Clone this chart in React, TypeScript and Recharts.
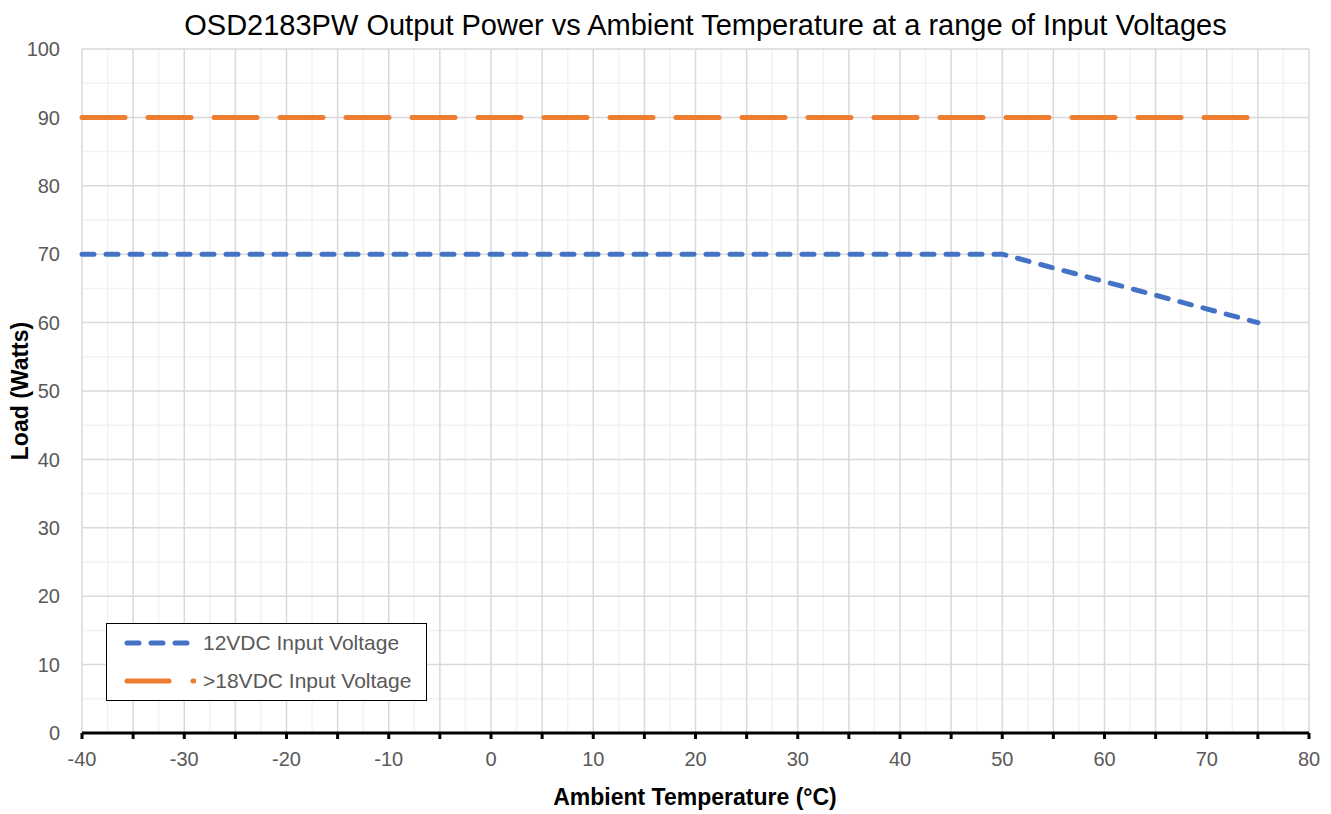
import { LineChart, Line, XAxis, YAxis, CartesianGrid } from 'recharts'

const blueX = [-40, 50, 75]
const blueY = [70, 70, 60]
const orangeX = [-40, 75]
const orangeY = [90, 90]

const xTicks = [-40, -35, -30, -25, -20, -15, -10, -5, 0, 5, 10, 15, 20, 25, 30, 35, 40, 45, 50, 55, 60, 65, 70, 75, 80]
const xMinor = [-37.5, -32.5, -27.5, -22.5, -17.5, -12.5, -7.5, -2.5, 2.5, 7.5, 12.5, 17.5, 22.5, 27.5, 32.5, 37.5, 42.5, 47.5, 52.5, 57.5, 62.5, 67.5, 72.5, 77.5]
const yTicks = [0, 10, 20, 30, 40, 50, 60, 70, 80, 90, 100]
const yMinor = [5, 15, 25, 35, 45, 55, 65, 75, 85, 95]

const BLUE = '#4472C4'
const ORANGE = '#ED7D31'
const FONT = '"Liberation Sans", Arial, sans-serif'

const blueData = blueX.map((x, i) => ({ x, y: blueY[i] }))
const orangeData = orangeX.map((x, i) => ({ x, y: orangeY[i] }))

export default function App() {
  return (
    <div style={{ position: 'relative', width: 1315, height: 806, fontFamily: FONT }}>
      <div style={{ position: 'absolute', left: 40, top: 0, width: 1315, textAlign: 'center', fontSize: 29, color: '#000', lineHeight: '34px', zIndex: 1 }}>
        OSD2183PW Output Power vs Ambient Temperature at a range of Input Voltages
      </div>
      <LineChart width={1315} height={806} margin={{ top: 41, right: 14, left: 0, bottom: 41 }}>
        <CartesianGrid horizontalValues={yMinor} verticalValues={xMinor} stroke="#F2F2F2" strokeWidth={1.5} />
        <CartesianGrid horizontalValues={yTicks} verticalValues={xTicks} stroke="#D9D9D9" strokeWidth={1.5} />
        <XAxis
          type="number" dataKey="x" domain={[-40, 80]} ticks={xTicks} interval={0}
          tickFormatter={(v: number) => (v % 10 === 0 ? String(v) : '')}
          axisLine={{ stroke: '#000', strokeWidth: 3 }}
          tickLine={{ stroke: '#000', strokeWidth: 3 }}
          tickSize={6} tickMargin={13} height={40}
          tick={{ fill: '#595959', fontSize: 20, fontFamily: FONT }}
          label={{
            content: () => (
              <text x={695 - 8} y={797} textAnchor="middle" fontFamily={FONT} fontSize={23} fontWeight="bold" fill="#000">
                Ambient Temperature (°C)
              </text>
            ),
          }}
        />
        <YAxis
          type="number" domain={[0, 100]} ticks={yTicks} interval={0}
          axisLine={false} tickLine={false} tickSize={6} tickMargin={16} width={74}
          tick={{ fill: '#595959', fontSize: 20, fontFamily: FONT }}
          label={{
            content: () => (
              <text x={0} y={0} transform={`translate(12, ${391 - 8}) rotate(-90)`} textAnchor="middle" dominantBaseline="central" fontFamily={FONT} fontSize={23} fontWeight="bold" fill="#000">
                Load (Watts)
              </text>
            ),
          }}
        />
        <Line data={orangeData} dataKey="y" type="linear" stroke={ORANGE} strokeWidth={5} strokeDasharray="43 23" strokeLinecap="round" dot={false} isAnimationActive={false} />
        <Line data={blueData} dataKey="y" type="linear" stroke={BLUE} strokeWidth={5} strokeDasharray="12 12" strokeLinecap="round" dot={false} isAnimationActive={false} />
      </LineChart>
      <div style={{ position: 'absolute', left: 98, top: 615, width: 319, height: 76, border: '1.5px solid #000', background: '#fff', color: '#595959', fontSize: 21 }}>
        <div style={{ position: 'absolute', left: 17, top: 6, display: 'flex', alignItems: 'center', lineHeight: '26px' }}>
          <svg width={72} height={12}>
            <line x1={3} y1={6} x2={70} y2={6} stroke={BLUE} strokeWidth={5} strokeDasharray="12 12" strokeLinecap="round" />
          </svg>
          <span style={{ marginLeft: 7 }}>12VDC Input Voltage</span>
        </div>
        <div style={{ position: 'absolute', left: 17, top: 44, display: 'flex', alignItems: 'center', lineHeight: '26px' }}>
          <svg width={72} height={12}>
            <line x1={3} y1={6} x2={70} y2={6} stroke={ORANGE} strokeWidth={5} strokeDasharray="42 24" strokeLinecap="round" />
          </svg>
          <span style={{ marginLeft: 7 }}>&gt;18VDC Input Voltage</span>
        </div>
      </div>
    </div>
  )
}
